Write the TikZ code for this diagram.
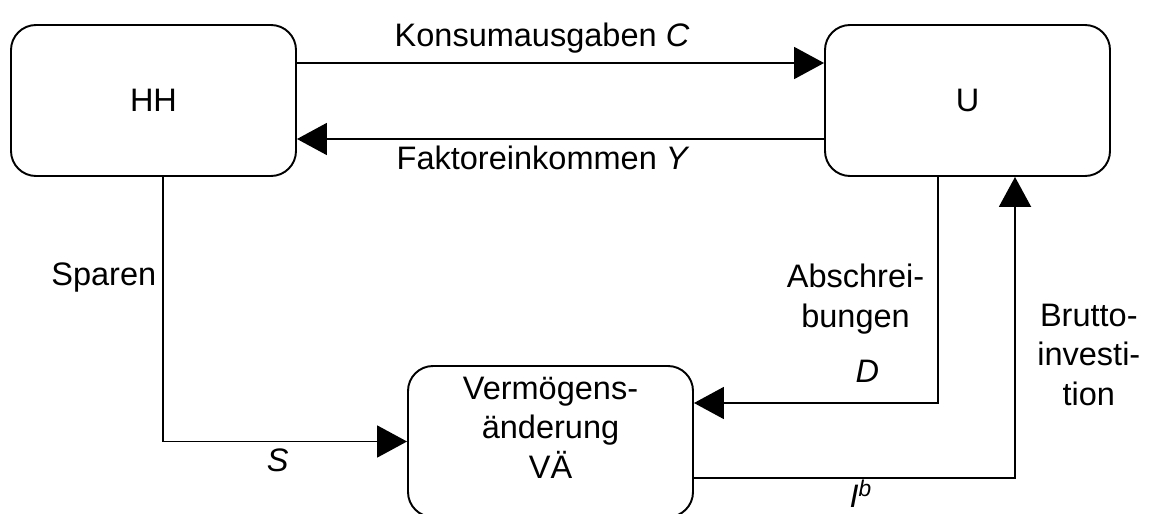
\documentclass[tikz,border=0pt]{standalone}
\usepackage{fontspec}
\setmainfont{Liberation Sans}
\usepackage{tikz}
\usetikzlibrary{positioning, arrows.meta}
\tikzstyle{box} = [rectangle, rounded corners=0.5cm, minimum width=5.7cm,
                   minimum height=3.02cm, text centered,
                   draw=black, line width=1.1pt]
\tikzstyle{arrow} = [line width=1.1pt, -{Triangle[length=0.6cm, width=0.64cm]}]

\begin{document}
\begin{tikzpicture}[font=\fontsize{18.5}{22.5}\selectfont, every node/.style={align=center}]
\useasboundingbox (0,0) rectangle (23.04,-10.28);
\node (hh) [box] at (3.07,-2.01) {HH};
\node (u) [box, right of=hh, node distance=16.28cm] {U};
\node (vae) [box, below of=hh, xshift=7.94cm, node distance=6.82cm, text depth=0.55cm, inner ysep=0.05cm] {Vermögens-\\änderung\\VÄ};

\draw [arrow] ([yshift=0.75cm]hh.east) -- node[above=0.06cm, pos=0.465] {Konsumausgaben \textit{C}} ([yshift=0.75cm]u.west);
\draw [arrow] ([yshift=-0.77cm]u.west) -- node[below, pos=0.533] {Faktoreinkommen \textit{Y}} ([yshift=-0.77cm]hh.east);
\draw [arrow] ([xshift=0.19cm]hh.south) |- node[left, pos=0.19] {Sparen} node[below, pos=0.735] {\textit{S}} (vae.west);
\draw [arrow] ([xshift=-0.59cm]u.south) |- node[left=0.14cm, pos=0.27] {Abschrei-\\bungen} node[left=1.04cm, pos=0.43] {\textit{D}} ([yshift=0.77cm]vae.east);
\draw [arrow] ([yshift=-0.73cm]vae.east) -| node[below=-0.1cm, pos=0.26] {\textit{I}\textsuperscript{\textit{b}}} node[right=0.31cm, pos=0.705] {Brutto-\\investi-\\tion} ([xshift=0.95cm]u.south);
\end{tikzpicture}
\end{document}
